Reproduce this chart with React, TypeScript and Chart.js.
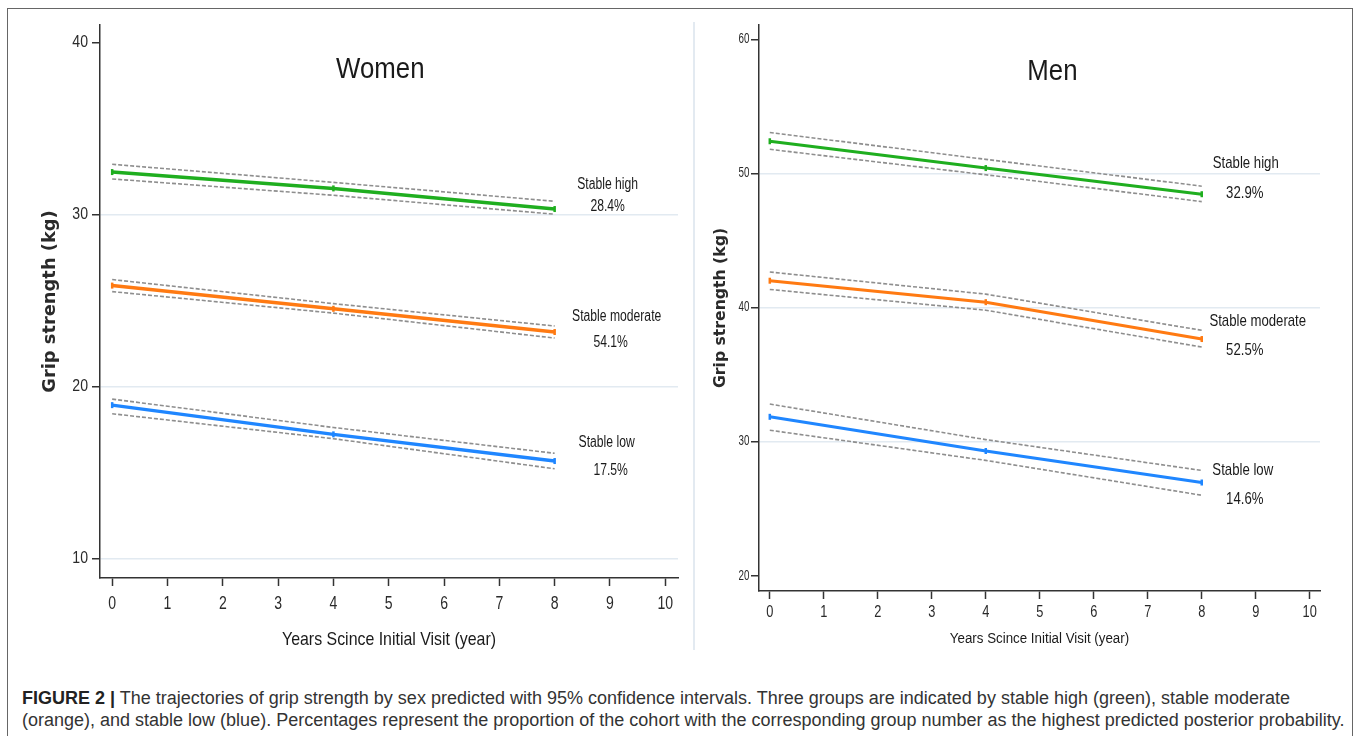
import React, { useEffect, useRef } from 'react';
import { Chart, registerables } from 'chart.js';

Chart.register(...registerables);

// ---------- data ----------
const years = [0, 4, 8];
const xTicks = [0, 1, 2, 3, 4, 5, 6, 7, 8, 9, 10];
const groupNames = ['Stable high', 'Stable moderate', 'Stable low'];
const xTitle = 'Years Scince Initial Visit (year)';
const yTitle = 'Grip strength (kg)';

const womenYTicks = [10, 20, 30, 40];
const womenGrid = [10, 20, 30];
const womenPct = ['28.4%', '54.1%', '17.5%'];
const womenHigh = [32.5, 31.55, 30.35];
const womenHighUpper = [32.95, 31.9, 30.8];
const womenHighLower = [32.1, 31.15, 30.05];
const womenModerate = [25.9, 24.55, 23.2];
const womenModerateUpper = [26.25, 24.85, 23.55];
const womenModerateLower = [25.55, 24.3, 22.85];
const womenLow = [18.95, 17.25, 15.7];
const womenLowUpper = [19.3, 17.65, 16.15];
const womenLowLower = [18.45, 17.0, 15.25];

const menYTicks = [20, 30, 40, 50, 60];
const menGrid = [30, 40, 50];
const menPct = ['32.9%', '52.5%', '14.6%'];
const menHigh = [52.4, 50.4, 48.45];
const menHighUpper = [53.05, 51.05, 49.05];
const menHighLower = [51.8, 49.9, 47.9];
const menModerate = [42.0, 40.4, 37.65];
const menModerateUpper = [42.65, 41.0, 38.3];
const menModerateLower = [41.35, 39.8, 37.05];
const menLow = [31.85, 29.3, 26.95];
const menLowUpper = [32.8, 30.15, 27.85];
const menLowLower = [30.85, 28.6, 26.0];

// ---------- styles ----------
const SANS = '"Liberation Sans", Arial, sans-serif';
const WIDE = '"DejaVu Sans", Verdana, sans-serif';
const COLORS = ['#1fae1f', '#ff7a12', '#1f86ff'];
const CI_COLOR = '#8e8e8e';
const AXIS = '#333333';
const GRID = '#e2eaf1';

type TextStyle = { size: number; family: string; weight?: string; sx: number; align: CanvasTextAlign; rot?: number; color: string };

function drawStr(ctx: CanvasRenderingContext2D, text: string, x: number, y: number, st: TextStyle) {
  ctx.save();
  ctx.translate(x, y);
  if (st.rot) ctx.rotate(st.rot);
  ctx.scale(st.sx, 1);
  ctx.font = `${st.weight || 'normal'} ${st.size}px ${st.family}`;
  ctx.fillStyle = st.color;
  ctx.textAlign = st.align;
  ctx.textBaseline = 'middle';
  ctx.fillText(text, 0, 0);
  ctx.restore();
}

type Panel = {
  title: string;
  titleFx: number;
  titleDy: number;
  titleSize: number;
  means: number[][];
  uppers: number[][];
  lowers: number[][];
  pct: string[];
  yTicks: number[];
  grid: number[];
  xMin: number; xMax: number; yMin: number; yMax: number;
  width: number; height: number;
  padTop: number; padRight: number;
  yW: number; xH: number;
  lineW: number;
  yTick: { size: number; sx: number; off: number };
  xTick: { size: number; sx: number; off: number };
  yTitleS: { size: number; sx: number; off: number };
  xTitleS: { size: number; sx: number; off: number };
  label: { size: number; sx: number };
  nameOff: number[][];
  pctOff: number[][];
};

const textPlugin = {
  id: 'panelText',
  afterDraw(chart: any, _args: any, opts: any) {
    const p: Panel = opts.panel;
    const { ctx, chartArea, scales } = chart;
    const ca = chartArea;
    // panel title
    drawStr(ctx, p.title, ca.left + p.titleFx * (ca.right - ca.left), ca.top + p.titleDy,
      { size: p.titleSize, family: SANS, sx: 0.89, align: 'center', color: '#1a1a1a' });
    // tick labels
    p.yTicks.forEach((v) => {
      drawStr(ctx, String(v), ca.left - p.yTick.off, scales.y.getPixelForValue(v),
        { size: p.yTick.size, family: SANS, sx: p.yTick.sx, align: 'right', color: '#2a2a2a' });
    });
    xTicks.forEach((v) => {
      drawStr(ctx, String(v), scales.x.getPixelForValue(v), ca.bottom + p.xTick.off,
        { size: p.xTick.size, family: SANS, sx: p.xTick.sx, align: 'center', color: '#2a2a2a' });
    });
    // axis titles
    drawStr(ctx, xTitle, (ca.left + ca.right) / 2, ca.bottom + p.xTitleS.off,
      { size: p.xTitleS.size, family: SANS, sx: p.xTitleS.sx, align: 'center', color: '#1a1a1a' });
    drawStr(ctx, yTitle, ca.left - p.yTitleS.off, (ca.top + ca.bottom) / 2,
      { size: p.yTitleS.size, family: WIDE, weight: 'bold', sx: p.yTitleS.sx, align: 'center', rot: -Math.PI / 2, color: '#2a2a2a' });
    // group labels next to the line ends
    p.means.forEach((m, i) => {
      const px = scales.x.getPixelForValue(years[years.length - 1]);
      const py = scales.y.getPixelForValue(m[m.length - 1]);
      const st: TextStyle = { size: p.label.size, family: SANS, sx: p.label.sx, align: 'center', color: '#1a1a1a' };
      drawStr(ctx, groupNames[i], px + p.nameOff[i][0], py + p.nameOff[i][1], st);
      drawStr(ctx, p.pct[i], px + p.pctOff[i][0], py + p.pctOff[i][1], st);
    });
  },
};

function buildConfig(p: Panel): any {
  const pts = (arr: number[]) => years.map((x, j) => ({ x, y: arr[j] }));
  const meanSets = p.means.map((m, i) => ({
    label: groupNames[i],
    data: pts(m),
    borderColor: COLORS[i],
    backgroundColor: COLORS[i],
    borderWidth: p.lineW,
    tension: 0,
    fill: false,
    pointStyle: 'line',
    pointRotation: 90,
    pointRadius: 3,
    pointBorderWidth: 2.5,
    pointBorderColor: COLORS[i],
  }));
  const ciSets: any[] = [];
  p.means.forEach((_m, i) => {
    [p.uppers[i], p.lowers[i]].forEach((arr, k) => {
      ciSets.push({
        label: `${groupNames[i]} ${k === 0 ? 'upper' : 'lower'} 95% CI`,
        data: pts(arr),
        borderColor: CI_COLOR,
        borderWidth: 1.6,
        borderDash: [4, 2],
        tension: 0,
        fill: false,
        pointRadius: 0,
      });
    });
  });
  return {
    type: 'line',
    data: { datasets: [...meanSets, ...ciSets] },
    plugins: [textPlugin],
    options: {
      responsive: false,
      animation: false,
      layout: { padding: { top: p.padTop, right: p.padRight, bottom: 0, left: 0 } },
      plugins: {
        legend: { display: false },
        tooltip: { enabled: false },
        panelText: { panel: p },
      },
      scales: {
        x: {
          type: 'linear',
          min: p.xMin,
          max: p.xMax,
          afterBuildTicks: (s: any) => { s.ticks = xTicks.map((v) => ({ value: v })); },
          afterFit: (s: any) => { s.height = p.xH; },
          grid: { drawOnChartArea: false, tickLength: 8, tickColor: AXIS, tickWidth: 1.5 },
          border: { color: AXIS, width: 1.5 },
          ticks: { display: false, autoSkip: false },
        },
        y: {
          type: 'linear',
          min: p.yMin,
          max: p.yMax,
          afterBuildTicks: (s: any) => { s.ticks = p.yTicks.map((v) => ({ value: v })); },
          afterFit: (s: any) => { s.width = p.yW; },
          grid: {
            color: (c: any) => (c.tick && p.grid.includes(c.tick.value) ? GRID : 'rgba(0,0,0,0)'),
            lineWidth: 1.5,
            tickLength: 8,
            tickColor: AXIS,
            tickWidth: 1.5,
          },
          border: { color: AXIS, width: 1.5 },
          ticks: { display: false, autoSkip: false },
        },
      },
    },
  };
}

const women: Panel = {
  title: 'Women', titleFx: 0.485, titleDy: 45, titleSize: 29,
  means: [womenHigh, womenModerate, womenLow],
  uppers: [womenHighUpper, womenModerateUpper, womenLowUpper],
  lowers: [womenHighLower, womenModerateLower, womenLowLower],
  pct: womenPct, yTicks: womenYTicks, grid: womenGrid,
  xMin: -0.22, xMax: 10.23, yMin: 8.9, yMax: 41.05,
  width: 680, height: 640, padTop: 13, padRight: 12, yW: 90, xH: 74,
  lineW: 3.5,
  yTick: { size: 16, sx: 0.88, off: 12 },
  xTick: { size: 18, sx: 0.78, off: 26 },
  yTitleS: { size: 17, sx: 1.05, off: 49.5 },
  xTitleS: { size: 18.5, sx: 0.86, off: 62 },
  label: { size: 16, sx: 0.76 },
  nameOff: [[53, -24], [62, -15], [52, -18]],
  pctOff: [[53, -2], [56, 11], [56, 10]],
};

const men: Panel = {
  title: 'Men', titleFx: 0.523, titleDy: 47, titleSize: 29,
  means: [menHigh, menModerate, menLow],
  uppers: [menHighUpper, menModerateUpper, menLowUpper],
  lowers: [menHighLower, menModerateLower, menLowLower],
  pct: menPct, yTicks: menYTicks, grid: menGrid,
  xMin: -0.2, xMax: 10.19, yMin: 18.86, yMax: 61.07,
  width: 656, height: 640, padTop: 13, padRight: 32, yW: 63, xH: 61,
  lineW: 3,
  yTick: { size: 14, sx: 0.7, off: 9.5 },
  xTick: { size: 16, sx: 0.8, off: 22 },
  yTitleS: { size: 15.5, sx: 1.01, off: 38 },
  xTitleS: { size: 15.5, sx: 0.86, off: 48 },
  label: { size: 17, sx: 0.775 },
  nameOff: [[44, -31], [56, -18], [41, -12]],
  pctOff: [[43, -1], [43, 11], [43, 17]],
};

function PanelChart({ panel, left, top }: { panel: Panel; left: number; top: number }) {
  const ref = useRef<HTMLCanvasElement | null>(null);
  useEffect(() => {
    if (!ref.current) return;
    const chart = new Chart(ref.current, buildConfig(panel));
    return () => chart.destroy();
  }, [panel]);
  return (
    <canvas
      ref={ref}
      width={panel.width}
      height={panel.height}
      style={{ position: 'absolute', left, top, width: panel.width, height: panel.height }}
    />
  );
}

export default function App() {
  return (
    <div style={{ position: 'fixed', left: 0, top: 0, width: 1358, height: 736, background: '#fff', overflow: 'hidden' }}>
      <div style={{ position: 'absolute', left: 7, top: 8, width: 1346, height: 760, border: '1px solid #666', boxSizing: 'border-box' }} />
      <div style={{ position: 'absolute', left: 693, top: 22, width: 2, height: 628, background: '#e3eaf1' }} />
      <PanelChart panel={women} left={10} top={12} />
      <PanelChart panel={men} left={696} top={12} />
      <div
        style={{
          position: 'absolute', left: 22, top: 687, width: 1330,
          fontFamily: SANS, fontSize: 18, lineHeight: '22px',
          color: '#333', whiteSpace: 'nowrap',
        }}
      >
        <div>
          <b style={{ color: '#222' }}>FIGURE 2 |</b> The trajectories of grip strength by sex predicted with 95% confidence intervals. Three groups are indicated by stable high (green), stable moderate
        </div>
        <div>
          (orange), and stable low (blue). Percentages represent the proportion of the cohort with the corresponding group number as the highest predicted posterior probability.
        </div>
      </div>
    </div>
  );
}
